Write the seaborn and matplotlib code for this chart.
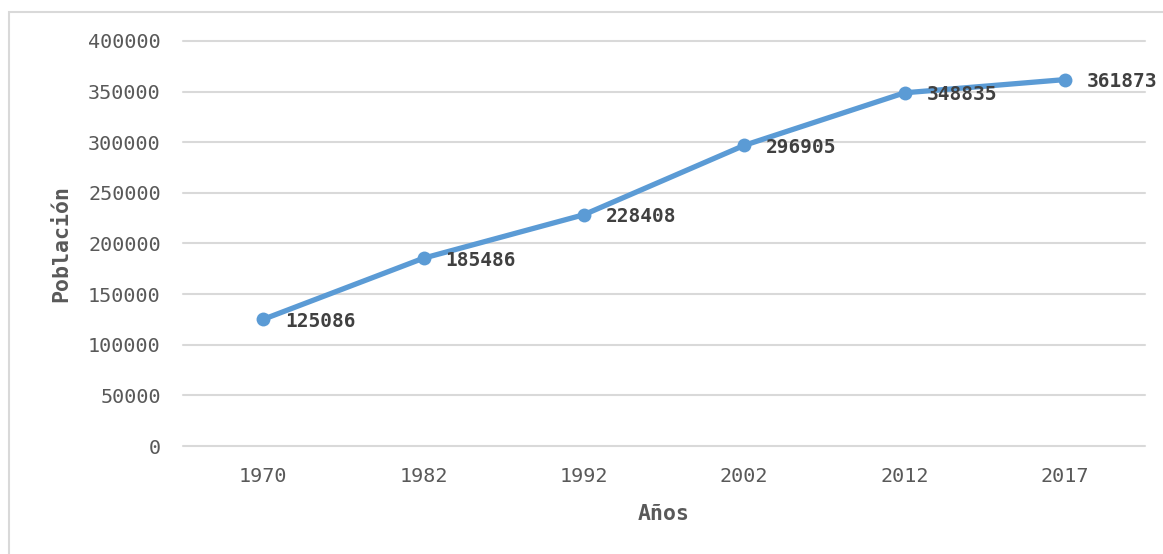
import matplotlib
matplotlib.use("Agg")
import matplotlib.pyplot as plt
import seaborn as sns
import pandas as pd
from matplotlib.patches import Rectangle

years = ["1970", "1982", "1992", "2002", "2012", "2017"]
population = [125086, 185486, 228408, 296905, 348835, 361873]
yticks = [0, 50000, 100000, 150000, 200000, 250000, 300000, 350000, 400000]

sns.set_theme(style="white")
plt.rcParams['font.family'] = ['DejaVu Sans Mono', 'DejaVu Sans']

df = pd.DataFrame({"Años": years, "Población": population})

fig = plt.figure(figsize=(11.63, 5.54), dpi=100)
ax = fig.add_axes([183/1163, 1-446/554, (1145-183)/1163, (446-41)/554])

sns.lineplot(data=df, x="Años", y="Población", ax=ax, sort=False,
             color="#5B9BD5", linewidth=3.8, marker="o", markersize=10,
             markeredgewidth=0, zorder=3)

for i, v in enumerate(population):
    ax.annotate(str(v), (i, v), xytext=(22, -2), textcoords="offset pixels",
                ha="left", va="center", fontsize=14, fontweight="bold", color="#404040")

ax.set_xlim(-0.5, len(years) - 0.5)
ax.set_ylim(0, 400000)
ax.set_yticks(yticks)
ax.set_yticklabels([str(t) for t in yticks])
ax.tick_params(axis="both", length=0, labelsize=14.5, labelcolor="#595959")
ax.tick_params(axis="y", pad=16)
ax.tick_params(axis="x", pad=15)
ax.grid(axis="y", color="#D9D9D9", linewidth=1.5)
ax.grid(axis="x", visible=False)
for gl in ax.get_ygridlines():
    gl.set_clip_on(False)
for s in ax.spines.values():
    s.set_visible(False)

ax.set_xlabel("Años", fontsize=15.5, fontweight="bold", color="#595959", labelpad=13)
ax.set_ylabel("Población", fontsize=15.5, fontweight="bold", color="#595959", labelpad=12)

fig.patches.append(Rectangle((9/1163, -0.05), 1.2, 1 - 12/554 + 0.05,
                             transform=fig.transFigure, fill=False,
                             edgecolor="#D9D9D9", linewidth=1.5))

fig.savefig("out.png", dpi=100)
